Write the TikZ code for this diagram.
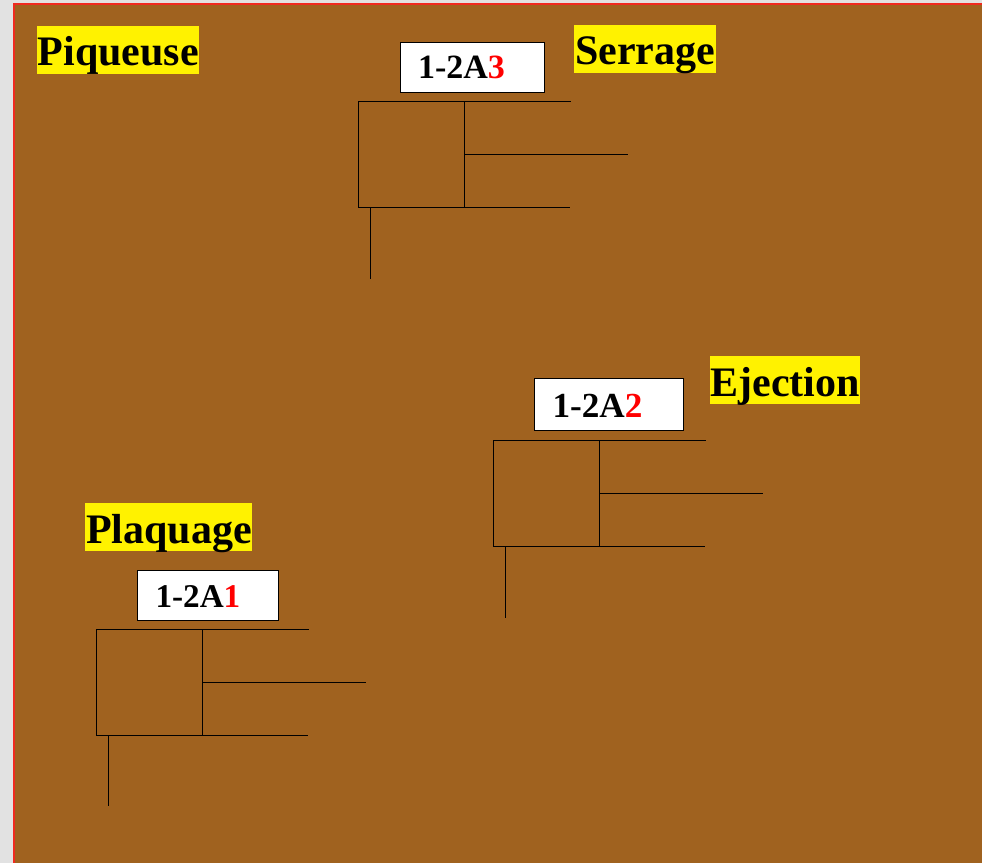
\documentclass[tikz,border=0pt]{standalone}
\usepackage{fontspec}
\setmainfont{Liberation Serif}
\usetikzlibrary{calc}
\definecolor{woodbrown}{HTML}{A0621F}
\definecolor{pagegray}{HTML}{E2E2E2}
\definecolor{edgered}{HTML}{F02A20}
\tikzset{
  px/.style={x=0.75pt,y=-0.75pt},
  caption/.style={fill=yellow,inner sep=0pt,anchor=base west,align=left,
    font=\fontsize{31.5pt}{36pt}\selectfont\bfseries,text height=30pt,text depth=6pt},
  tagbox/.style={draw=black,fill=white,line width=0.75pt,inner xsep=13.5pt,inner ysep=0pt,outer sep=0pt,anchor=base west,align=left,
    text height=27pt,text depth=10.5pt},
  chamber/.style={draw=black,line width=0.75pt,inner sep=0pt,outer sep=0pt,minimum width=79.5pt,minimum height=79.5pt,anchor=north west},
  wire/.style={draw=black,line width=0.75pt}
}
\newcommand{\cylinder}[3]{%
  \node[chamber] (#1) at (#2,#3) {};
  \coordinate (#1top) at ($(#2,#3)+(213,0)$);
  \coordinate (#1mid) at ($(#2,#3)+(270,53)$);
  \coordinate (#1bot) at ($(#2,#3)+(212,106)$);
  \coordinate (#1rodtop) at ($(#2,#3)+(12,106)$);
  \coordinate (#1rodend) at ($(#2,#3)+(12,177)$);
  \coordinate (#1divtop) at ($(#2,#3)+(106,0)$);
  \coordinate (#1divbot) at ($(#2,#3)+(106,106)$);
  \coordinate (#1divmid) at ($(#2,#3)+(106,53)$);
  \draw[wire] (#1divtop) -- (#1divbot);
  \draw[wire] (#1divtop) -- (#1top);
  \draw[wire] (#1divmid) -- (#1mid);
  \draw[wire] (#1divbot) -- (#1bot);
  \draw[wire] (#1rodtop) -- (#1rodend);
}
\begin{document}
\begin{tikzpicture}[px]
  \useasboundingbox (0,0) rectangle (982,863);
  \fill[pagegray] (0,0) rectangle (982,863);
  \fill[woodbrown] (13,3) rectangle (982,863);
  \fill[edgered] (13,3) rectangle (982,5);
  \fill[edgered] (13,3) rectangle (15,863);

  \node[caption,minimum width=121.5pt] (piqueuse) at (37,66) {Piqueuse};
  \node[caption,minimum width=106.5pt] (serrage) at (574,65) {Serrage};
  \node[caption,minimum width=112.5pt] (ejection) at (710,396) {Ejection};
  \node[caption,minimum width=125pt] (plaquage) at (85,543) {\hspace{0.5pt}Plaquage};

  \node[tagbox,text width=81pt,font=\fontsize{25.5pt}{30pt}\selectfont\bfseries] (tag3) at (400,78.5) {1-2A\textcolor{red}{3}};
  \node[tagbox,text width=84.5pt,text height=28.9pt,text depth=10.1pt,font=\fontsize{26.4pt}{30pt}\selectfont\bfseries] (tag2) at (534.5,417.5) {1-2A\textcolor{red}{2}};
  \node[tagbox,text width=79pt,text height=27.4pt,text depth=10.1pt,font=\fontsize{24.9pt}{30pt}\selectfont\bfseries] (tag1) at (137.5,607) {1-2A\textcolor{red}{1}};

  \cylinder{cyla}{358}{101.5}
  \cylinder{cylb}{493}{440.5}
  \cylinder{cylc}{96}{629}
\end{tikzpicture}
\end{document}
